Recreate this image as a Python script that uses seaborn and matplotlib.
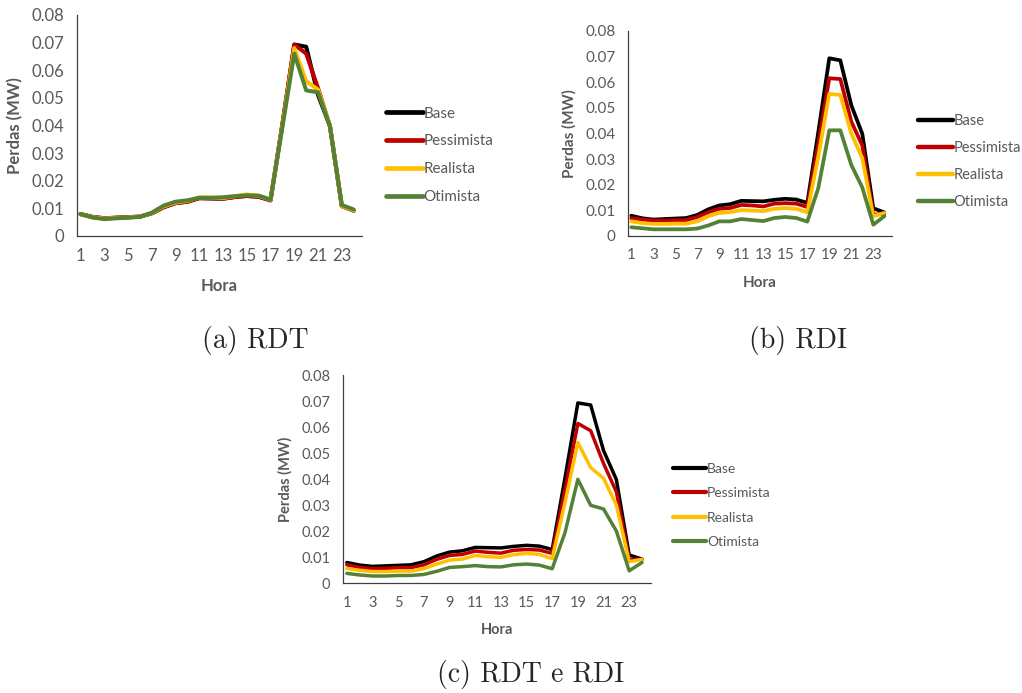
import numpy as np
import pandas as pd
import seaborn as sns
import matplotlib.pyplot as plt
from matplotlib.ticker import FuncFormatter

hours = list(range(1, 25))
scenarios = ['Base', 'Pessimista', 'Realista', 'Otimista']
colors = {'Base': '#000000', 'Pessimista': '#C00000', 'Realista': '#FFC000', 'Otimista': '#548235'}

base = [0.0079, 0.0069, 0.0064, 0.0066, 0.0068, 0.0070, 0.0082, 0.0104, 0.0119, 0.0124, 0.0137, 0.0136,
        0.0135, 0.0141, 0.0145, 0.0142, 0.0129, 0.0405, 0.0693, 0.0685, 0.0510, 0.0398, 0.0108, 0.0092]

# (a) RDT
rdt_pess = [0.0079, 0.0069, 0.0064, 0.0066, 0.0068, 0.0070, 0.0082, 0.0104, 0.0119, 0.0124, 0.0137, 0.0136,
            0.0135, 0.0141, 0.0145, 0.0142, 0.0129, 0.0405, 0.0693, 0.0660, 0.0535, 0.0398, 0.0108, 0.0092]
rdt_real = [0.0078, 0.0068, 0.0063, 0.0065, 0.0067, 0.0070, 0.0083, 0.0107, 0.0121, 0.0127, 0.0140, 0.0139,
            0.0137, 0.0144, 0.0150, 0.0145, 0.0131, 0.0400, 0.0680, 0.0560, 0.0530, 0.0400, 0.0108, 0.0093]
rdt_otim = [0.0079, 0.0067, 0.0061, 0.0064, 0.0066, 0.0069, 0.0084, 0.0110, 0.0124, 0.0129, 0.0138, 0.0138,
            0.0140, 0.0144, 0.0147, 0.0146, 0.0132, 0.0395, 0.0660, 0.0527, 0.0520, 0.0397, 0.0112, 0.0096]

# (b) RDI
rdi_pess = [0.0069, 0.0064, 0.0060, 0.0060, 0.0061, 0.0062, 0.0074, 0.0093, 0.0106, 0.0109, 0.0121, 0.0119,
            0.0115, 0.0126, 0.0128, 0.0126, 0.0113, 0.0360, 0.0615, 0.0612, 0.0446, 0.0353, 0.0083, 0.0086]
rdi_real = [0.0057, 0.0050, 0.0047, 0.0047, 0.0048, 0.0048, 0.0057, 0.0077, 0.0090, 0.0093, 0.0101, 0.0099,
            0.0097, 0.0106, 0.0109, 0.0106, 0.0092, 0.0310, 0.0554, 0.0550, 0.0400, 0.0303, 0.0077, 0.0090]
rdi_otim = [0.0034, 0.0030, 0.0026, 0.0026, 0.0026, 0.0026, 0.0029, 0.0041, 0.0057, 0.0057, 0.0066, 0.0062,
            0.0058, 0.0070, 0.0074, 0.0070, 0.0056, 0.0187, 0.0412, 0.0412, 0.0277, 0.0189, 0.0044, 0.0077]

# (c) RDT e RDI
both_pess = [0.0070, 0.0060, 0.0055, 0.0056, 0.0059, 0.0059, 0.0070, 0.0091, 0.0106, 0.0110, 0.0123, 0.0118,
             0.0115, 0.0126, 0.0129, 0.0127, 0.0114, 0.0360, 0.0614, 0.0586, 0.0460, 0.0351, 0.0091, 0.0091]
both_real = [0.0056, 0.0049, 0.0044, 0.0044, 0.0046, 0.0046, 0.0055, 0.0073, 0.0088, 0.0092, 0.0106, 0.0101,
             0.0099, 0.0109, 0.0114, 0.0110, 0.0094, 0.0310, 0.0541, 0.0444, 0.0403, 0.0300, 0.0082, 0.0091]
both_otim = [0.0037, 0.0031, 0.0027, 0.0027, 0.0029, 0.0029, 0.0033, 0.0045, 0.0060, 0.0063, 0.0067, 0.0063,
             0.0062, 0.0070, 0.0073, 0.0069, 0.0055, 0.0194, 0.0399, 0.0299, 0.0285, 0.0200, 0.0047, 0.0079]


def make_frame(series):
    rows = []
    for name, values in zip(scenarios, series):
        for h, v in zip(hours, values):
            rows.append({'Hora': h, 'Perdas': v, 'Cenario': name})
    return pd.DataFrame(rows)


sns.set_style('white')
plt.rcParams['font.family'] = ['Lato', 'DejaVu Sans']

fig = plt.figure(figsize=(10.22, 6.93), dpi=100)

panels = [
    # axes rect, data, tick size, legend size, legend anchor, line width, caption, caption pos
    ([0.0753, 0.6595, 0.2789, 0.3189], [base, rdt_pess, rdt_real, rdt_otim], 12, 11, (0.378, 0.776), 2.9,
     '(a) RDT', (0.2495, 0.509)),
    ([0.6145, 0.6595, 0.2583, 0.2960], [base, rdi_pess, rdi_real, rdi_otim], 11, 10.5, (0.898, 0.767), 2.7,
     '(b) RDI', (0.781, 0.509)),
    ([0.3356, 0.1587, 0.3014, 0.3000], [base, both_pess, both_real, both_otim], 10.5, 10, (0.6585, 0.2706), 2.5,
     '(c) RDT e RDI', (0.5196, 0.026)),
]

grey = '#595959'
for rect, series, tsize, lsize, lpos, lw, caption, cpos in panels:
    ax = fig.add_axes(rect)
    df = make_frame(series)
    sns.lineplot(data=df, x='Hora', y='Perdas', hue='Cenario', hue_order=scenarios,
                 palette=colors, linewidth=lw, ax=ax, sort=False)
    ax.set_xlim(0.7, 24.7)
    ax.set_ylim(0, 0.08)
    ax.set_yticks(np.arange(0, 0.081, 0.01))
    ax.yaxis.set_major_formatter(FuncFormatter(lambda v, p: '0' if abs(v) < 1e-9 else f'{v:.2f}'))
    ax.set_xticks(range(1, 25, 2))
    ax.set_xticks(np.arange(0.7, 24.8, 1), minor=True)
    ax.tick_params(axis='x', which='major', length=0, labelsize=tsize, labelcolor=grey, pad=9)
    ax.tick_params(axis='x', which='minor', length=4, width=0.8, color='#404040', direction='out')
    ax.tick_params(axis='y', length=4, width=0.8, color='#404040', direction='out', pad=5,
                   labelsize=tsize, labelcolor=grey)
    sns.despine(ax=ax)
    for s in ['left', 'bottom']:
        ax.spines[s].set_color('#404040')
        ax.spines[s].set_linewidth(0.9)
    ax.set_xlabel('Hora', fontsize=tsize, fontweight='bold', color=grey, labelpad=10)
    ax.set_ylabel('Perdas (MW)', fontsize=tsize, fontweight='bold', color=grey, labelpad=6)
    sns.move_legend(ax, loc='center left', bbox_to_anchor=lpos, bbox_transform=fig.transFigure,
                    frameon=False, title=None, fontsize=lsize, handlelength=2.4, handletextpad=0.05,
                    labelspacing=0.9, borderpad=0, borderaxespad=0)
    leg = ax.get_legend()
    for t in leg.get_texts():
        t.set_color(grey)
    for h in leg.legend_handles:
        h.set_linewidth(lw + 0.5)
    fig.text(cpos[0], cpos[1], caption, ha='center', va='center', fontsize=20, family='cmr10')

fig.savefig('out.png', dpi=100)
